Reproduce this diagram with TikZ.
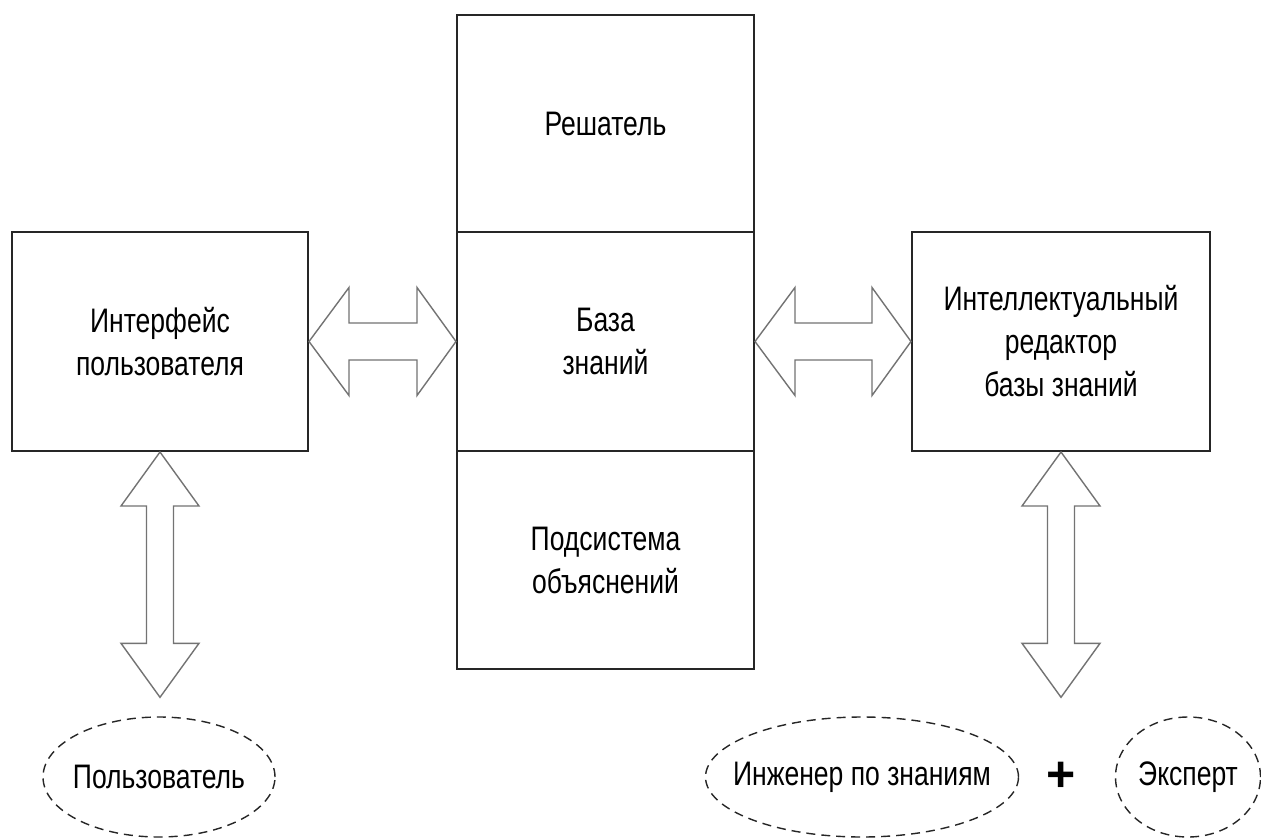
\documentclass[tikz,border=0pt]{standalone}
\usepackage{fontspec}
\setmainfont{Liberation Sans}[FakeStretch=0.78]
\newfontfamily\plusfont{Liberation Sans}
\usetikzlibrary{shapes.geometric,calc}
\tikzset{
  lbl/.style={font=\fontsize{34}{43}\selectfont, align=center, text=black},
  blk/.style={draw=black!85, line width=2pt, rectangle, inner sep=0pt, lbl},
  oval/.style={draw=black!85, line width=1.4pt, dash pattern=on 9pt off 6pt, ellipse, inner sep=0pt, lbl},
  blockarrow/.style={draw=black!55, line width=1.4pt, fill=white, line join=miter}
}
\newcommand\hdblarrow[2]{%
  \draw[blockarrow] let \p1=(#1), \p2=(#2) in
    (\x1,\y1) -- (\x1+40pt,\y1+54pt) -- (\x1+40pt,\y1+18.5pt) -- (\x2-39pt,\y1+18.5pt)
    -- (\x2-39pt,\y1+54pt) -- (\x2,\y1) -- (\x2-39pt,\y1-54pt) -- (\x2-39pt,\y1-18.5pt)
    -- (\x1+40pt,\y1-18.5pt) -- (\x1+40pt,\y1-54pt) -- cycle;}
\newcommand\vdblarrow[2]{%
  \draw[blockarrow] let \p1=(#1), \p2=(#2) in
    (\x1,\y1) -- (\x1+39pt,\y1-54pt) -- (\x1+13.5pt,\y1-54pt) -- (\x1+13.5pt,\y2+54pt)
    -- (\x1+39pt,\y2+54pt) -- (\x1,\y2) -- (\x1-39pt,\y2+54pt) -- (\x1-13.5pt,\y2+54pt)
    -- (\x1-13.5pt,\y1-54pt) -- (\x1-39pt,\y1-54pt) -- cycle;}
\begin{document}
\begin{tikzpicture}[x=1pt,y=1pt]
\useasboundingbox[fill=white] (0,0) rectangle (1261,-838);
% central column
\node[blk, minimum width=297pt, minimum height=217pt] (S) at (605.5,-123.5) {Решатель};
\node[blk, minimum width=297pt, minimum height=219pt] (KB) at (605.5,-341.5) {База\\знаний};
\node[blk, minimum width=297pt, minimum height=218pt] (P) at (605.5,-560) {Подсистема\\объяснений};
% side boxes
\node[blk, minimum width=296pt, minimum height=219pt] (L) at (160,-341.5) {Интерфейс\\пользователя};
\node[blk, minimum width=298pt, minimum height=219pt] (R) at (1061,-341.5) {Интеллектуальный\\редактор\\базы знаний};
% ellipses
\node[oval, minimum width=232pt, minimum height=120pt] (U) at (159,-777) {\makebox[0pt]{Пользователь}};
\node[oval, minimum width=313pt, minimum height=120pt] (E) at (862,-777) {\makebox[0pt]{Инженер по знаниям}};
\node[oval, minimum width=145pt, minimum height=120pt] (X) at (1188,-777) {\makebox[0pt]{Эксперт}};
\node[font=\plusfont\bfseries\fontsize{50}{50}\selectfont, inner sep=0pt] (plus) at (1061,-777) {+};
% free ends of the vertical arrows
\coordinate (ua) at ($(U.north)+(0,19)$);
\coordinate (ra) at (R.south |- ua);
% arrows
\hdblarrow{L.east}{KB.west}
\hdblarrow{KB.east}{R.west}
\vdblarrow{L.south}{ua}
\vdblarrow{R.south}{ra}
\end{tikzpicture}
\end{document}
